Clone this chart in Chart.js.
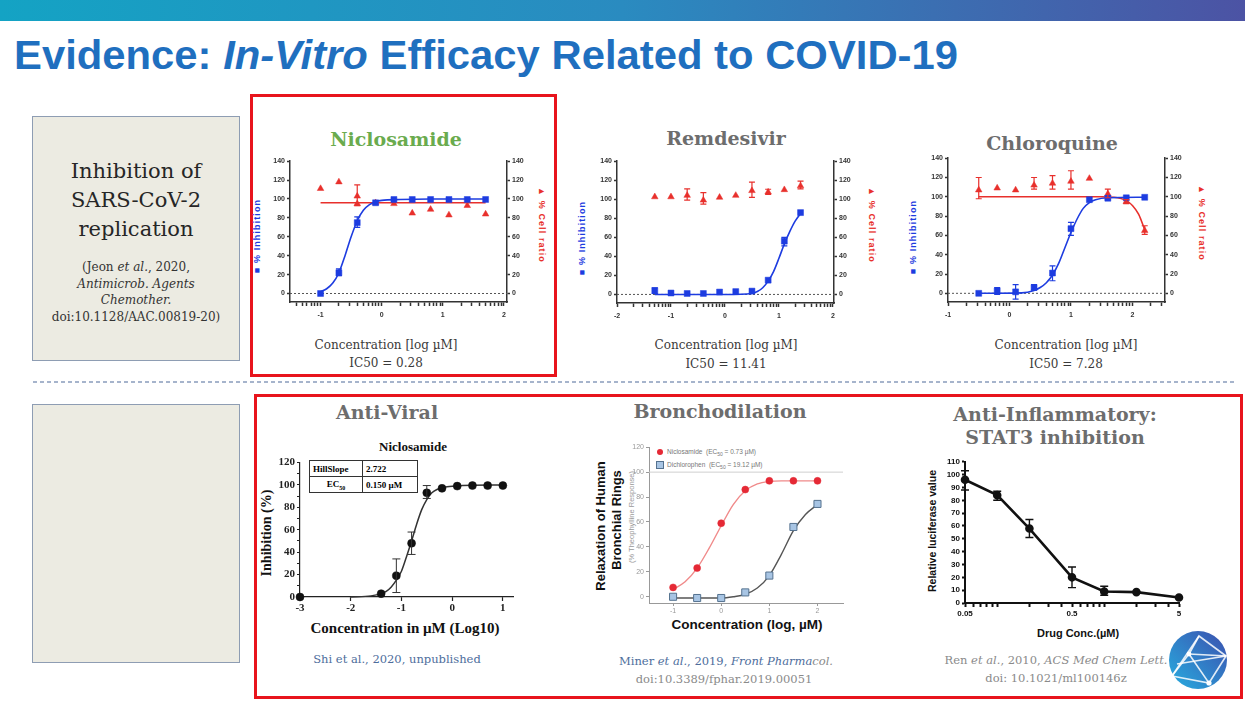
<!DOCTYPE html>
<html>
<head>
<meta charset="utf-8">
<title>Evidence: In-Vitro Efficacy Related to COVID-19</title>
<script src="https://cdn.jsdelivr.net/npm/chart.js@4.4.1/dist/chart.umd.min.js"></script>
<style>
  body { margin: 0; background: #fff; }
  #slide { position: relative; width: 1245px; height: 701px; overflow: hidden; background: #fff; font-family: 'Liberation Sans', Arial, sans-serif; }
  .abs { position: absolute; }
  .c { position: absolute; white-space: nowrap; transform: translate(-50%, -50%); }
  .up { position: absolute; white-space: nowrap; transform: translate(-50%, -50%) rotate(-90deg); }
  .down { position: absolute; white-space: nowrap; transform: translate(-50%, -50%) rotate(90deg); }
  canvas { position: absolute; }
  .dserif { font-family: 'DejaVu Serif', Georgia, serif; }
  .ttl { font-family: 'DejaVu Serif', Georgia, serif; font-weight: bold; font-size: 19px; color: #6d6d6d; }
  .cap { font-family: 'DejaVu Serif', Georgia, serif; font-size: 12px; color: #3a3a3a; }
  .ref { font-family: 'DejaVu Serif', Georgia, serif; font-size: 11.5px; color: #8a8a8a; }
  .axl { font-family: 'Liberation Sans', sans-serif; font-weight: bold; font-size: 9px; letter-spacing: 1.1px; }
  .box { position: absolute; background: #ecebe2; border: 1.5px solid #8e9db3; box-sizing: border-box; }
  .redbox { position: absolute; border: 3px solid #e8141c; box-sizing: border-box; }
  #inset { position: absolute; left: 309px; top: 460px; border-collapse: collapse; font-family: 'Liberation Serif', serif; font-weight: bold; font-size: 9px; background: #fff; }
  #inset td { border: 1px solid #333; padding: 1px 3px; height: 13px; }
  .leg { position: absolute; font-family: 'Liberation Sans', sans-serif; font-size: 6.5px; color: #777; white-space: nowrap; }
</style>
</head>
<body>
<div id="slide">
  <div class="abs" style="left:0;top:0;width:1245px;height:21px;background:linear-gradient(90deg,#14a3c4 0%,#2a8bc0 50%,#4c53a4 100%);"></div>
  <div class="abs" style="left:14px;top:35px;font-family:'Liberation Sans',Arial,sans-serif;font-weight:bold;font-size:41px;line-height:41px;color:#1f6fbf;">
    <span id="tt" style="display:inline-block;white-space:nowrap;transform-origin:0 0;">Evidence: <i>In-Vitro</i> Efficacy Related to COVID-19</span>
  </div>

  <div class="box" style="left:32px;top:116px;width:208px;height:245px;"></div>
  <div class="box" style="left:32px;top:404px;width:208px;height:259px;"></div>
  <div class="c dserif" style="left:136px;top:200px;text-align:center;font-size:21px;line-height:29px;color:#262626;">Inhibition of<br>SARS-CoV-2<br>replication</div>
  <div class="c dserif" style="left:136px;top:292px;text-align:center;font-size:12px;line-height:16.5px;color:#333;">(Jeon <i>et al.</i>, 2020,<br><i>Antimicrob. Agents</i><br><i>Chemother.</i><br>doi:10.1128/AAC.00819-20)</div>

  <div class="abs" style="left:33px;top:381px;width:1202px;height:2px;background:repeating-linear-gradient(90deg,#a6b4cc 0 4px,transparent 4px 7px);"></div>
  <div class="redbox" style="left:250px;top:94px;width:307px;height:283px;"></div>
  <div class="redbox" style="left:254px;top:394px;width:989px;height:305px;"></div>

  <!-- top row -->
  <div class="c ttl" style="left:396px;top:139px;color:#6aab4e;">Niclosamide</div>
  <div class="c ttl" style="left:726px;top:138px;">Remdesivir</div>
  <div class="c ttl" style="left:1052px;top:143px;">Chloroquine</div>
  <div class="up axl" style="left:257px;top:236px;color:#1d3ce0;">■ % Inhibition</div>
  <div class="down axl" style="left:542px;top:225px;color:#e8302c;">▲ % Cell ratio</div>
  <div class="up axl" style="left:582px;top:238px;color:#1d3ce0;">■ % Inhibition</div>
  <div class="down axl" style="left:872px;top:225px;color:#e8302c;">▲ % Cell ratio</div>
  <div class="up axl" style="left:913px;top:237px;color:#1d3ce0;">■ % Inhibition</div>
  <div class="down axl" style="left:1202px;top:223px;color:#e8302c;">▲ % Cell ratio</div>
  <div class="c cap" style="left:386px;top:345px;">Concentration [log µM]</div>
  <div class="c cap" style="left:386px;top:363px;">IC50 = 0.28</div>
  <div class="c cap" style="left:726px;top:345px;">Concentration [log µM]</div>
  <div class="c cap" style="left:726px;top:364px;">IC50 = 11.41</div>
  <div class="c cap" style="left:1066px;top:345px;">Concentration [log µM]</div>
  <div class="c cap" style="left:1066px;top:364px;">IC50 = 7.28</div>

  <!-- bottom row -->
  <div class="c ttl" style="left:387px;top:412px;">Anti-Viral</div>
  <div class="c" style="left:413px;top:447px;font-family:'Liberation Serif',serif;font-weight:bold;font-size:13px;color:#111;">Niclosamide</div>
  <table id="inset"><tr><td style="width:46px;">HillSlope</td><td style="width:48px;">2.722</td></tr><tr><td style="text-align:center;">EC<sub style="font-size:6px;">50</sub></td><td>0.150 µM</td></tr></table>
  <div class="up" style="left:267px;top:533px;font-family:'Liberation Serif',serif;font-weight:bold;font-size:14px;color:#111;">Inhibition (%)</div>
  <div class="c" style="left:405px;top:628px;font-family:'Liberation Serif',serif;font-weight:bold;font-size:15px;color:#111;">Concentration in µM (Log10)</div>
  <div class="c ref" style="left:397px;top:659px;color:#4d6d9c;">Shi et al., 2020, unpublished</div>

  <div class="c ttl" style="left:720px;top:411px;">Bronchodilation</div>
  <div class="abs" style="left:657px;top:449px;width:6px;height:6px;border-radius:50%;background:#e52935;"></div>
  <div class="leg" style="left:667px;top:448px;">Niclosamide&nbsp;&nbsp;(EC<sub style="font-size:5px;">50</sub> = 0.73 µM)</div>
  <div class="abs" style="left:656px;top:461px;width:6px;height:6px;background:#a8c5e4;border:1px solid #55728f;"></div>
  <div class="leg" style="left:667px;top:461px;">Dichlorophen&nbsp;&nbsp;(EC<sub style="font-size:5px;">50</sub> = 19.12 µM)</div>
  <div class="up" style="left:600px;top:526px;font-family:'Liberation Sans',sans-serif;font-weight:bold;font-size:13px;color:#111;">Relaxation of Human</div>
  <div class="up" style="left:616px;top:520px;font-family:'Liberation Sans',sans-serif;font-weight:bold;font-size:13px;color:#111;">Bronchial Rings</div>
  <div class="up" style="left:631px;top:517px;font-family:'Liberation Sans',sans-serif;font-size:7.5px;color:#999;">(% Theophylline Response)</div>
  <div class="c" style="left:747px;top:624px;font-family:'Liberation Sans',sans-serif;font-weight:bold;font-size:13.5px;color:#111;">Concentration (log, µM)</div>
  <div class="c ref" style="left:726px;top:661px;color:#4d6d9c;">Miner <i>et al.</i>, 2019, <i>Front Pharma</i><i style="color:#8a8a8a;">col.</i></div>
  <div class="c ref" style="left:724px;top:679px;">doi:10.3389/fphar.2019.00051</div>

  <div class="c ttl" style="left:1055px;top:426px;text-align:center;line-height:23px;">Anti-Inflammatory:<br>STAT3 inhibition</div>
  <div class="up" style="left:932px;top:531px;font-family:'Liberation Sans',sans-serif;font-weight:bold;font-size:10.5px;color:#111;">Relative luciferase value</div>
  <div class="c" style="left:1078px;top:633px;font-family:'Liberation Sans',sans-serif;font-weight:bold;font-size:11px;color:#111;">Drug Conc.(µM)</div>
  <div class="c ref" style="left:1056px;top:660px;">Ren <i>et al.</i>, 2010, <i>ACS Med Chem Lett.</i></div>
  <div class="c ref" style="left:1056px;top:678px;">doi: 10.1021/ml100146z</div>

  <svg class="abs" style="left:1169px;top:631px;" width="58" height="58" viewBox="0 0 58 58">
    <defs><linearGradient id="lg" x1="0" y1="1" x2="1" y2="0"><stop offset="0" stop-color="#27aee0"/><stop offset="1" stop-color="#3c4fae"/></linearGradient></defs>
    <circle cx="29" cy="29" r="29" fill="url(#lg)"/>
    <g stroke="#fff" stroke-width="1.6" stroke-opacity="0.85" fill="none">
      <path d="M20 23 L40 52 L3 45 Z"/><path d="M20 23 L57 25 L40 52"/><path d="M20 23 L30 5 L57 25"/><path d="M8 33 L57 25"/><path d="M3 45 L30 5"/>
    </g>
    <g fill="#fff"><circle cx="20" cy="23" r="2.4"/><circle cx="40" cy="52" r="2.6"/><circle cx="3" cy="45" r="1.6"/></g>
  </svg>

  <canvas id="c1"></canvas>
  <canvas id="c2"></canvas>
  <canvas id="c3"></canvas>
  <canvas id="c4"></canvas>
  <canvas id="c5"></canvas>
  <canvas id="c6"></canvas>
</div>

<script>
// ---- data ----
// Jeon et al. panels: x = log µM
const niclX = [-1, -0.7, -0.4, -0.1, 0.2, 0.5, 0.8, 1.1, 1.4, 1.7];
const niclInh = [0, 22, 75, 96, 99.5, 99.5, 99.5, 99.5, 99.5, 99.5];
const niclInhErr = [null, [19, 26], [70, 81], null, null, null, null, null, null, null];
const niclCellX = [-1, -0.7, -0.4, -0.4, -0.1, 0.2, 0.5, 0.8, 1.1, 1.4, 1.7];
const niclCell = [111, 118, 103, 95, 96, 95, 85, 89, 83, 93, 84];
const niclCellErr = [null, null, [93, 115], null, null, null, null, null, null, null, null];
const niclFitX = [-1, -0.9, -0.8, -0.7, -0.6, -0.5, -0.4, -0.3, -0.2, -0.1, 0, 0.3, 0.8, 1.7];
const niclFitY = [2, 5, 11, 22, 40, 60, 77, 88, 94, 97, 98.5, 99.5, 100, 100];
const niclCellFitX = [-1, 1.7];
const niclCellFitY = [96, 96];

const remX = [-1.3, -1, -0.7, -0.4, -0.1, 0.2, 0.5, 0.8, 1.1, 1.4];
const remInh = [4, 1.5, 1, 1, 2.5, 3, 3.5, 15, 56, 86];
const remInhErr = [[1, 7], null, null, null, null, null, null, null, [51, 60], null];
const remCell = [102.5, 102.5, 104, 99, 102, 104, 109, 107.5, 110, 114];
const remCellErr = [null, null, [99, 111], [95, 107], null, null, [102, 118], [105, 110.5], null, [111, 119]];
const remFitX = [-1.3, 0, 0.5, 0.6, 0.7, 0.8, 0.9, 1.0, 1.1, 1.2, 1.3, 1.4];
const remFitY = [0, 0, 1, 3, 7, 14, 24, 38, 53, 66, 77, 85];

const cqX = [-0.5, -0.2, 0.1, 0.4, 0.7, 1.0, 1.3, 1.6, 1.9, 2.2];
const cqInh = [0, 2.5, 1.5, 6, 21, 67, 97, 98.5, 99, 99.5];
const cqInhErr = [null, [-1, 6], [-6, 9], [3.5, 9], [13, 28.5], [60, 73.5], null, [97, 101], null, null];
const cqCell = [107, 109, 107, 112, 114, 116, 119, 103, 95, 65];
const cqCellErr = [[98, 120], null, null, [108, 120], [108, 122], [108, 127], null, [99, 108], [93, 97], [61, 70]];
const cqFitX = [-0.5, 0.2, 0.4, 0.5, 0.6, 0.7, 0.8, 0.9, 1.0, 1.1, 1.2, 1.3, 1.4, 1.6, 2.2];
const cqFitY = [0, 0.5, 3, 6, 11, 19, 31, 47, 63, 77, 88, 94, 97, 99, 99.5];
const cqCellFitX = [-0.5, 1.5, 1.7, 1.8, 1.9, 2.0, 2.1, 2.2];
const cqCellFitY = [100, 100, 99.5, 98.5, 96, 91, 82, 66];

const topYTicks = [0, 20, 40, 60, 80, 100, 120, 140];
const logMinor = [0.301, 0.477, 0.602, 0.699, 0.778, 0.845, 0.903, 0.954];

// Shi et al. anti-viral
const avX = [-3, -1.4, -1.1, -0.8, -0.5, -0.2, 0.1, 0.4, 0.7, 1];
const avY = [0, 3, 19, 48, 93, 97, 99, 99.5, 99.5, 99.5];
const avErr = [null, null, [4, 34], [38, 58], [88, 99.5], null, null, null, null, null];
const avFitX = [-2, -1.6, -1.4, -1.3, -1.2, -1.1, -1.0, -0.9, -0.8, -0.7, -0.6, -0.5, -0.4, -0.3, -0.1, 0.2, 1];
const avFitY = [0, 1, 3, 5, 9, 15, 23, 36, 50, 65, 78, 87, 93, 96, 98.5, 99.5, 100];
const avXTicks = [-3, -2, -1, 0, 1];
const avYTicks = [0, 10, 20, 30, 40, 50, 60, 70, 80, 90, 100, 110, 120];

// Miner et al. bronchodilation
const bronX = [-1, -0.5, 0, 0.5, 1, 1.5, 2];
const bronNic = [7.5, 23, 59, 86, 93, 93, 93];
const bronDic = [0, -1, -1, 3.5, 17, 56, 74.5];
const bronNicFitX = [-1, -0.75, -0.5, -0.25, 0, 0.25, 0.5, 0.75, 1, 1.25, 1.5, 2];
const bronNicFitY = [6, 12, 23, 39, 57, 74, 85, 90.5, 92.5, 93, 93, 93];
const bronDicFitX = [-1, 0, 0.25, 0.5, 0.75, 1, 1.25, 1.5, 1.75, 2];
const bronDicFitY = [-1, -1, 0, 2, 7, 17, 34, 53, 66, 74];
const bronXTicks = [-1, 0, 1, 2];
const bronYTicks = [0, 20, 40, 60, 80, 100, 120];

// Ren et al. STAT3
const statX = [0.05, 0.1, 0.2, 0.5, 1, 2, 5];
const statY = [96, 84, 58, 20, 9, 8.5, 4.3];
const statErr = [[88, 103], [80, 87], [51, 65], [12, 28], [6, 13], null, null];
const statXTicks = [0.05, 0.06, 0.07, 0.08, 0.09, 0.1, 0.2, 0.3, 0.4, 0.5, 0.6, 0.7, 0.8, 0.9, 1, 2, 3, 4, 5];
const statXLabels = [0.05, 0.5, 5];
const statYTicks = [0, 10, 20, 30, 40, 50, 60, 70, 80, 90, 100, 110];

const BLUE = '#1d3ce0', RED = '#e8302c';

// ---- helpers ----
const pts = (xs, ys) => xs.map((x, i) => ({ x: x, y: ys[i] }));

function marks(xs, ys, style, fill, r, axis, stroke) {
    return { data: pts(xs, ys), showLine: false, pointStyle: style, pointRadius: r,
        pointBackgroundColor: fill, pointBorderColor: stroke || fill, pointBorderWidth: stroke ? 1 : 0.5,
        yAxisID: axis || 'y', clip: false };
}
function curve(xs, ys, color, w, axis) {
    return { data: pts(xs, ys), showLine: true, pointRadius: 0, borderColor: color, borderWidth: w,
        cubicInterpolationMode: 'monotone', yAxisID: axis || 'y', clip: false };
}
function withMinor(min, max) {
    const out = [];
    for (let n = Math.floor(min); n <= max; n++) {
        if (n >= min) out.push(n);
        logMinor.forEach(o => { const v = n + o; if (v >= min && v <= max) out.push(v); });
    }
    return out;
}

// error bars and reference lines, placed through the chart scales
function extras(cfg) {
    return {
        id: 'extras',
        beforeDatasetsDraw(chart) {
            const ctx = chart.ctx, a = chart.chartArea;
            (cfg.hlines || []).forEach(h => {
                const y = chart.scales.y.getPixelForValue(h.v);
                ctx.save();
                ctx.strokeStyle = h.color; ctx.lineWidth = h.w || 1; ctx.setLineDash(h.dash || []);
                ctx.beginPath(); ctx.moveTo(a.left, y); ctx.lineTo(a.right, y); ctx.stroke();
                ctx.restore();
            });
        },
        afterDatasetsDraw(chart) {
            const ctx = chart.ctx;
            (cfg.errs || []).forEach(e => {
                const xs = chart.scales.x, ys = chart.scales[e.axis || 'y'], c = e.cap || 3;
                ctx.save();
                ctx.strokeStyle = e.color; ctx.lineWidth = e.w || 1.2;
                e.x.forEach((xv, i) => {
                    const r = e.r[i];
                    if (!r) return;
                    const px = xs.getPixelForValue(xv), y1 = ys.getPixelForValue(r[0]), y2 = ys.getPixelForValue(r[1]);
                    ctx.beginPath();
                    ctx.moveTo(px, y1); ctx.lineTo(px, y2);
                    ctx.moveTo(px - c, y1); ctx.lineTo(px + c, y1);
                    ctx.moveTo(px - c, y2); ctx.lineTo(px + c, y2);
                    ctx.stroke();
                });
                ctx.restore();
            });
        }
    };
}

// area = [left, top, right, bottom] of the plot area on the slide, m = margins [l, t, r, b]
function mount(id, area, m) {
    const c = document.getElementById(id);
    c.width = area[2] - area[0] + m[0] + m[2];
    c.height = area[3] - area[1] + m[1] + m[3];
    c.style.left = (area[0] - m[0]) + 'px';
    c.style.top = (area[1] - m[1]) + 'px';
    return c;
}

function vAxis(pos, min, max, ticks, label, width, font, color, bw, tl) {
    return {
        type: 'linear', position: pos, min: min, max: max,
        afterFit: s => { s.width = width; },
        afterBuildTicks: s => { s.ticks = ticks.map(v => ({ value: v })); },
        ticks: { callback: label, font: font, color: color, padding: 2, autoSkip: false },
        grid: { drawOnChartArea: false, drawTicks: true, tickLength: tl || 3, tickColor: color, tickWidth: bw },
        border: { display: true, color: color, width: bw }
    };
}
function hAxis(type, min, max, ticks, label, height, font, color, bw, tl, pad) {
    return {
        type: type, position: 'bottom', min: min, max: max,
        afterFit: s => { s.height = height; },
        afterBuildTicks: s => { s.ticks = ticks.map(v => ({ value: v })); },
        ticks: { callback: label, font: font, color: color, padding: pad || 2, autoSkip: false, maxRotation: 0 },
        grid: { drawOnChartArea: false, drawTicks: true, tickLength: tl || 3, tickColor: color, tickWidth: bw },
        border: { display: true, color: color, width: bw }
    };
}

function build(id, area, m, scales, datasets, cfg) {
    const canvas = mount(id, area, m);
    return new Chart(canvas, {
        type: 'scatter',
        data: { datasets: datasets },
        options: {
            responsive: false, animation: false, events: [],
            layout: { padding: { left: 0, top: m[1], right: scales.y2 ? 0 : m[2], bottom: 0 } },
            plugins: { legend: { display: false }, tooltip: { enabled: false } },
            scales: scales
        },
        plugins: [extras(cfg)]
    });
}

// ---- Jeon et al. panels ----
const topFont = { family: 'Liberation Sans', size: 7, weight: 'bold' };
function topPanel(id, area, xMin, xMax, xMajor, sets, errs) {
    const lab = v => String(v);
    build(id, area, [30, 6, 26, 22], {
        x: hAxis('linear', xMin, xMax, withMinor(xMin, xMax), v => xMajor.includes(v) ? String(v) : '', 22, topFont, '#333', 1.5, 4, 5),
        y: vAxis('left', -9, 140, topYTicks, lab, 30, topFont, '#333', 1.5, 3),
        y2: vAxis('right', -9, 140, topYTicks, lab, 26, topFont, '#333', 1.5, 3)
    }, sets, { hlines: [{ v: 0, color: '#555', w: 1, dash: [2, 2] }], errs: errs });
}

topPanel('c1', [290, 161, 507, 302], -1.5, 2.05, [-1, 0, 1, 2], [
    marks(niclX, niclInh, 'rect', BLUE, 4.2),
    marks(niclCellX, niclCell, 'triangle', RED, 3.8, 'y2'),
    curve(niclFitX, niclFitY, BLUE, 1.6),
    curve(niclCellFitX, niclCellFitY, RED, 1.4, 'y2')
], [
    { x: niclX, r: niclInhErr, color: BLUE },
    { x: niclCellX, r: niclCellErr, color: RED, axis: 'y2' }
]);

topPanel('c2', [617, 161, 834, 303], -2, 2.02, [-2, -1, 0, 1, 2], [
    marks(remX, remInh, 'rect', BLUE, 4.2),
    marks(remX, remCell, 'triangle', RED, 3.8, 'y2'),
    curve(remFitX, remFitY, BLUE, 1.6)
], [
    { x: remX, r: remInhErr, color: BLUE },
    { x: remX, r: remCellErr, color: RED, axis: 'y2' }
]);

topPanel('c3', [948, 158, 1165, 302], -1, 2.53, [-1, 0, 1, 2], [
    marks(cqX, cqInh, 'rect', BLUE, 4.2),
    marks(cqX, cqCell, 'triangle', RED, 3.8, 'y2'),
    curve(cqFitX, cqFitY, BLUE, 1.6),
    curve(cqCellFitX, cqCellFitY, RED, 1.6, 'y2')
], [
    { x: cqX, r: cqInhErr, color: BLUE },
    { x: cqX, r: cqCellErr, color: RED, axis: 'y2' }
]);

// ---- anti-viral ----
const serifFont = { family: 'Liberation Serif', size: 11, weight: 'bold' };
build('c4', [300, 460, 513, 597], [30, 6, 10, 18], {
    x: hAxis('linear', -3, 1.2, avXTicks, v => String(v), 18, serifFont, '#222', 1.2, 4, 1),
    y: vAxis('left', 0, 120, avYTicks, v => v % 20 === 0 ? String(v) : '', 30, serifFont, '#222', 1.2, 3)
}, [
    marks(avX, avY, 'circle', '#111', 4),
    curve(avFitX, avFitY, '#333', 1.5)
], { errs: [{ x: avX, r: avErr, color: '#333', w: 1, cap: 4 }] });

// ---- bronchodilation ----
const grayFont = { family: 'Liberation Sans', size: 7 };
build('c5', [649, 447, 845, 603], [24, 6, 4, 14], {
    x: hAxis('linear', -1.5, 2.53, bronXTicks, v => String(v), 14, grayFont, '#999', 1, 3, 1),
    y: vAxis('left', -5, 120, bronYTicks, v => String(v), 24, grayFont, '#999', 1, 3)
}, [
    marks(bronX, bronNic, 'circle', '#e52935', 3.5),
    marks(bronX, bronDic, 'rect', '#a8c5e4', 5, 'y', '#55728f'),
    curve(bronNicFitX, bronNicFitY, '#f08a8a', 1.4),
    curve(bronDicFitX, bronDicFitY, '#555', 1.4)
], { hlines: [{ v: 100, color: '#cfcfcf', w: 1 }] });

// ---- STAT3 ----
const sansBold = { family: 'Liberation Sans', size: 8, weight: 'bold' };
build('c6', [965, 461, 1179, 603], [26, 6, 8, 20], {
    x: hAxis('logarithmic', 0.05, 5, statXTicks, v => statXLabels.includes(v) ? String(v) : '', 20, sansBold, '#111', 2, 4, 2),
    y: vAxis('left', 0, 110, statYTicks, v => String(v), 26, sansBold, '#111', 2, 3)
}, [
    { data: pts(statX, statY), showLine: true, borderColor: '#111', borderWidth: 2.6, pointStyle: 'circle',
      pointRadius: 3, pointBackgroundColor: '#111', pointBorderColor: '#111', tension: 0, clip: false }
], { errs: [{ x: statX, r: statErr, color: '#111', w: 1.4, cap: 4 }] });

// title squeezed to the slide's condensed width
const tt = document.getElementById('tt');
tt.style.transform = 'scaleX(' + (944 / tt.getBoundingClientRect().width) + ')';
</script>
</body>
</html>
